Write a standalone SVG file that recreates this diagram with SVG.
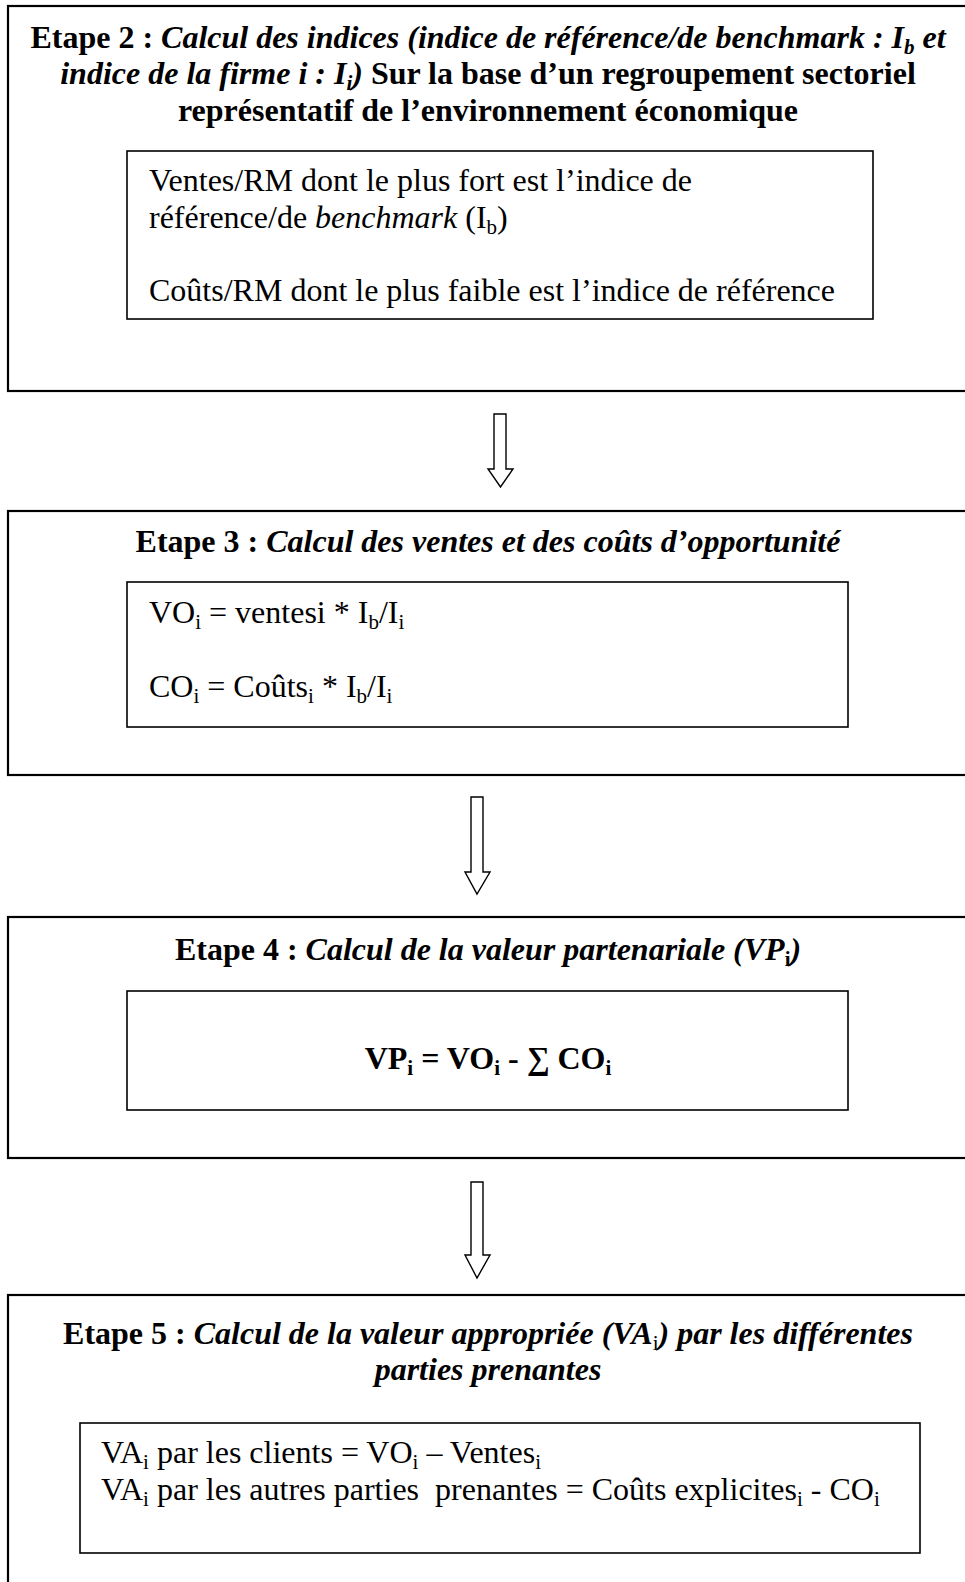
<svg xmlns="http://www.w3.org/2000/svg" width="965" height="1582" viewBox="0 0 965 1582">
<style>
.outer{fill:none;stroke:#000;stroke-width:2.2}
.inner{fill:none;stroke:#000;stroke-width:1.6}
.arrow{fill:#fff;stroke:#000;stroke-width:1.4;stroke-linejoin:miter}
text{font-family:"Liberation Serif","Times New Roman",serif;font-size:32px;fill:#000}
.t{font-weight:bold;text-anchor:middle}
.bi{font-style:italic;font-weight:bold}
.it{font-style:italic}
.sub{font-size:21px}
.pre{white-space:pre}
</style>
<rect width="965" height="1582" fill="#fff"/>
<g id="connectors">
<polygon class="arrow" points="494,414 506,414 506,469 513,469 500.5,487 488,469 494,469"/>
<polygon class="arrow" points="471,797 483,797 483,872 490,872 477,894 465,872 471,872"/>
<polygon class="arrow" points="471,1182 483,1182 483,1255 490,1255 477,1278 465,1255 471,1255"/>
</g>
<g id="etape2">
<rect class="outer" x="8" y="6" width="970" height="385"/>
<text class="t" x="488" y="48">Etape 2 : <tspan class="bi">Calcul des indices (indice de référence/de benchmark : I<tspan class="sub" dy="6">b</tspan><tspan dy="-6"> et</tspan></tspan></text>
<text class="t" x="488" y="84"><tspan class="bi">indice de la firme i : I<tspan class="sub" dy="6">i</tspan><tspan dy="-6">)</tspan></tspan> Sur la base d’un regroupement sectoriel</text>
<text class="t" x="488" y="121">représentatif de l’environnement économique</text>
<rect class="inner" x="127" y="151" width="746" height="168"/>
<text x="149" y="191">Ventes/RM dont le plus fort est l’indice de</text>
<text x="149" y="228">référence/de <tspan class="it">benchmark</tspan> (I<tspan class="sub" dy="6">b</tspan><tspan dy="-6">)</tspan></text>
<text x="149" y="301">Coûts/RM dont le plus faible est l’indice de référence</text>
</g>
<g id="etape3">
<rect class="outer" x="8" y="511" width="970" height="264"/>
<text class="t" x="488" y="552">Etape 3 : <tspan class="bi">Calcul des ventes et des coûts d’opportunité</tspan></text>
<rect class="inner" x="127" y="582" width="721" height="145"/>
<text x="149" y="623">VO<tspan class="sub" dy="6">i</tspan><tspan dy="-6"> = ventesi * I</tspan><tspan class="sub" dy="6">b</tspan><tspan dy="-6">/I</tspan><tspan class="sub" dy="6">i</tspan></text>
<text x="149" y="697">CO<tspan class="sub" dy="6">i</tspan><tspan dy="-6"> = Coûts</tspan><tspan class="sub" dy="6">i</tspan><tspan dy="-6"> * I</tspan><tspan class="sub" dy="6">b</tspan><tspan dy="-6">/I</tspan><tspan class="sub" dy="6">i</tspan></text>
</g>
<g id="etape4">
<rect class="outer" x="8" y="917" width="970" height="241"/>
<text class="t" x="488" y="960">Etape 4 : <tspan class="bi">Calcul de la valeur partenariale (VP<tspan class="sub" dy="6" font-style="normal">i</tspan><tspan dy="-6">)</tspan></tspan></text>
<rect class="inner" x="127" y="991" width="721" height="119"/>
<text class="t" x="488" y="1069">VP<tspan class="sub" dy="6">i</tspan><tspan dy="-6"> = VO</tspan><tspan class="sub" dy="6">i</tspan><tspan dy="-6"> - ∑ CO</tspan><tspan class="sub" dy="6">i</tspan></text>
</g>
<g id="etape5">
<rect class="outer" x="8" y="1295" width="970" height="320"/>
<text class="t" x="488" y="1344">Etape 5 : <tspan class="bi">Calcul de la valeur appropriée (VA</tspan><tspan class="sub" dy="6" font-weight="normal">i</tspan><tspan class="bi" dy="-6">) par les différentes</tspan></text>
<text class="t" x="488" y="1380"><tspan class="bi">parties prenantes</tspan></text>
<rect class="inner" x="80" y="1423" width="840" height="130"/>
<text x="101" y="1463">VA<tspan class="sub" dy="6">i</tspan><tspan dy="-6"> par les clients = VO</tspan><tspan class="sub" dy="6">i</tspan><tspan dy="-6"> – Ventes</tspan><tspan class="sub" dy="6">i</tspan></text>
<text class="pre" x="101" y="1500">VA<tspan class="sub" dy="6">i</tspan><tspan dy="-6"> par les autres parties  prenantes = Coûts explicites</tspan><tspan class="sub" dy="6">i</tspan><tspan dy="-6"> - CO</tspan><tspan class="sub" dy="6">i</tspan></text>
</g>
</svg>
